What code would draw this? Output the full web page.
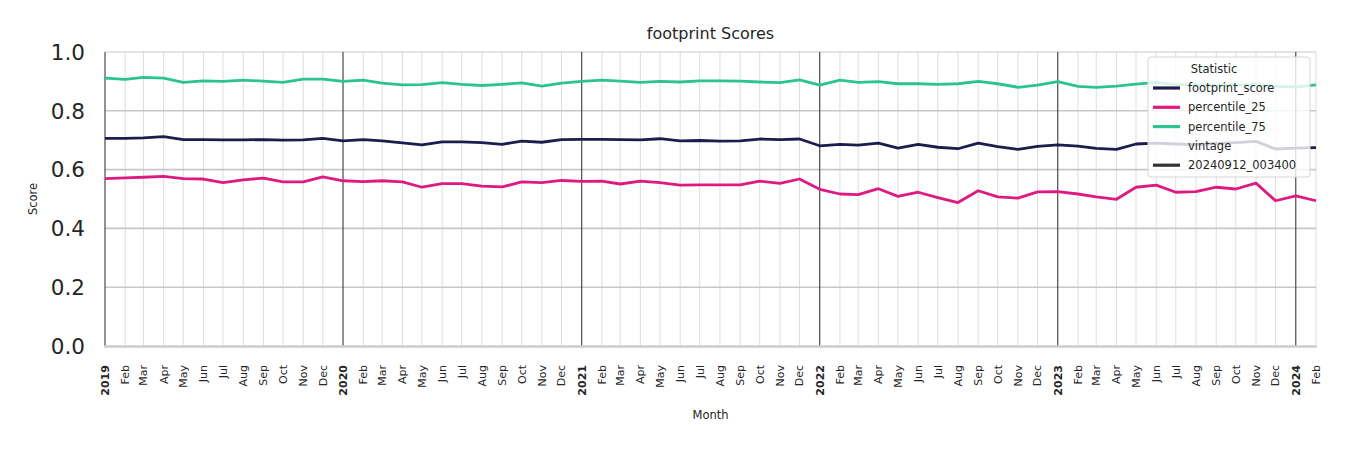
<!DOCTYPE html>
<html>
<head>
<meta charset="utf-8">
<script src="https://cdn.jsdelivr.net/npm/d3@7"></script>
<style>
  body { margin: 0; background: #fff; }
  svg { font-family: 'DejaVu Sans', sans-serif; display: block; }
</style>
</head>
<body>
<div id="svg-container"></div>
<script>
// monthly values, Jan 2019 .. Feb 2024
const startMonth = '2019-01-01'
const monthCount = 62

const footprintScore = [
  0.706, 0.706, 0.708, 0.712, 0.702, 0.702, 0.701, 0.701, 0.702, 0.700, 0.701, 0.706,
  0.698, 0.702, 0.698, 0.691, 0.684, 0.694, 0.694, 0.692, 0.686, 0.697, 0.693, 0.702,
  0.703, 0.703, 0.702, 0.701, 0.705, 0.698, 0.699, 0.697, 0.698, 0.704, 0.702, 0.704,
  0.681, 0.686, 0.683, 0.690, 0.673, 0.686, 0.676, 0.671, 0.690, 0.678, 0.669, 0.679,
  0.684, 0.680, 0.672, 0.669, 0.687, 0.690, 0.687, 0.685, 0.689, 0.692, 0.696, 0.670,
  0.673, 0.675,
]
const percentile25 = [
  0.569, 0.572, 0.574, 0.577, 0.569, 0.568, 0.556, 0.565, 0.571, 0.558, 0.558, 0.575,
  0.562, 0.559, 0.562, 0.558, 0.540, 0.552, 0.552, 0.544, 0.541, 0.558, 0.556, 0.563,
  0.560, 0.561, 0.551, 0.561, 0.556, 0.547, 0.548, 0.548, 0.548, 0.561, 0.553, 0.568,
  0.533, 0.517, 0.515, 0.535, 0.509, 0.523, 0.505, 0.488, 0.528, 0.507, 0.503, 0.524,
  0.525, 0.517, 0.507, 0.499, 0.540, 0.547, 0.523, 0.525, 0.540, 0.534, 0.554, 0.494,
  0.511, 0.494,
]
const percentile75 = [
  0.911, 0.907, 0.914, 0.911, 0.897, 0.902, 0.900, 0.904, 0.901, 0.897, 0.908, 0.908,
  0.900, 0.904, 0.894, 0.888, 0.889, 0.896, 0.890, 0.886, 0.890, 0.895, 0.884, 0.894,
  0.900, 0.904, 0.901, 0.897, 0.900, 0.898, 0.902, 0.902, 0.901, 0.898, 0.896, 0.905,
  0.887, 0.904, 0.897, 0.899, 0.892, 0.892, 0.890, 0.892, 0.900, 0.892, 0.880, 0.887,
  0.899, 0.883, 0.880, 0.884, 0.891, 0.897, 0.889, 0.888, 0.886, 0.888, 0.889, 0.883,
  0.881, 0.888,
]

const seriesNames = ['footprint_score', 'percentile_25', 'percentile_75']
const seriesColors = ['#1c1c4e', '#de1a82', '#2bc48f']
const yTicks = [0, 0.2, 0.4, 0.6, 0.8, 1.0]

;(function () {
  const svgWidth = 1350
  const svgHeight = 450
  const marginLeft = 105
  const marginRight = 34
  const marginTop = 52
  const marginBottom = 104

  const parse = d3.utcParse('%Y-%m-%d')
  const months = d3.utcMonth.range(parse(startMonth), d3.utcMonth.offset(parse(startMonth), monthCount))

  const x = d3
    .scaleUtc()
    .domain([months[0], months[months.length - 1]])
    .range([marginLeft, svgWidth - marginRight])
  const y = d3
    .scaleLinear()
    .domain([0, 1])
    .range([svgHeight - marginBottom, marginTop])

  const svg = d3
    .select('#svg-container')
    .append('svg')
    .attr('width', svgWidth)
    .attr('height', svgHeight)

  const x0 = x.range()[0]
  const x1 = x.range()[1]

  // minor month grid
  svg
    .append('g')
    .selectAll('line')
    .data(months.filter(d => d.getUTCMonth() !== 0))
    .join('line')
    .attr('x1', d => x(d))
    .attr('x2', d => x(d))
    .attr('y1', y(0))
    .attr('y2', y(1))
    .attr('stroke', '#dddddd')
    .attr('stroke-width', 1)

  // horizontal grid
  svg
    .append('g')
    .selectAll('line')
    .data(yTicks.filter(d => d > 0))
    .join('line')
    .attr('x1', x0)
    .attr('x2', x1)
    .attr('y1', d => y(d))
    .attr('y2', d => y(d))
    .attr('stroke', '#c8c8c8')
    .attr('stroke-width', d => (d === 1 ? 1 : 1.6))

  // year lines
  svg
    .append('g')
    .selectAll('line')
    .data(months.filter(d => d.getUTCMonth() === 0))
    .join('line')
    .attr('x1', d => x(d))
    .attr('x2', d => x(d))
    .attr('y1', y(0))
    .attr('y2', y(1))
    .attr('stroke', '#3a3a3a')
    .attr('stroke-width', 1.1)

  // bottom spine
  svg
    .append('line')
    .attr('x1', x0 - 1)
    .attr('x2', x1 + 1)
    .attr('y1', y(0) + 0.5)
    .attr('y2', y(0) + 0.5)
    .attr('stroke', '#cccccc')
    .attr('stroke-width', 2.5)

  // y tick labels
  svg
    .append('g')
    .selectAll('text')
    .data(yTicks)
    .join('text')
    .attr('x', x0 - 20)
    .attr('y', d => y(d))
    .attr('dy', '0.36em')
    .attr('text-anchor', 'end')
    .attr('font-size', 21.5)
    .attr('fill', '#262626')
    .text(d => d.toFixed(1))

  // x tick labels
  const fmtMonth = d3.utcFormat('%b')
  svg
    .append('g')
    .selectAll('text')
    .data(months)
    .join('text')
    .attr('transform', d => `translate(${x(d)},${y(0) + 19}) rotate(-90)`)
    .attr('dy', '0.35em')
    .attr('text-anchor', 'end')
    .attr('font-size', 11)
    .attr('font-weight', d => (d.getUTCMonth() === 0 ? 'bold' : 'normal'))
    .attr('fill', '#262626')
    .text(d => (d.getUTCMonth() === 0 ? d.getUTCFullYear() : fmtMonth(d)))

  // series lines
  const allSeries = [footprintScore, percentile25, percentile75]
  const line = d3
    .line()
    .x((d, i) => x(months[i]))
    .y(d => y(d))

  svg
    .append('g')
    .selectAll('path')
    .data(allSeries)
    .join('path')
    .attr('d', line)
    .attr('fill', 'none')
    .attr('stroke', (d, i) => seriesColors[i])
    .attr('stroke-width', 2.8)
    .attr('stroke-linejoin', 'round')

  // titles
  svg
    .append('text')
    .attr('x', (x0 + x1) / 2)
    .attr('y', 39)
    .attr('text-anchor', 'middle')
    .attr('font-size', 16)
    .attr('fill', '#262626')
    .text('footprint Scores')

  svg
    .append('text')
    .attr('transform', `translate(37,${(y(0) + y(1)) / 2}) rotate(-90)`)
    .attr('text-anchor', 'middle')
    .attr('font-size', 11.5)
    .attr('fill', '#262626')
    .text('Score')

  svg
    .append('text')
    .attr('x', (x0 + x1) / 2)
    .attr('y', 419)
    .attr('text-anchor', 'middle')
    .attr('font-size', 11.5)
    .attr('fill', '#262626')
    .text('Month')

  // legend
  const legend = svg.append('g').attr('transform', 'translate(1148,57)')
  legend
    .append('rect')
    .attr('width', 162)
    .attr('height', 120)
    .attr('rx', 3)
    .attr('fill', 'rgba(255,255,255,0.8)')
    .attr('stroke', '#d6d6d6')

  legend
    .append('text')
    .attr('x', 66)
    .attr('y', 12)
    .attr('dy', '0.35em')
    .attr('text-anchor', 'middle')
    .attr('font-size', 11.5)
    .attr('fill', '#262626')
    .text('Statistic')

  const legendItems = [
    { label: seriesNames[0], color: seriesColors[0] },
    { label: seriesNames[1], color: seriesColors[1] },
    { label: seriesNames[2], color: seriesColors[2] },
    { label: 'vintage', color: null },
    { label: '20240912_003400', color: '#333333' },
  ]
  const item = legend
    .selectAll('g.item')
    .data(legendItems)
    .join('g')
    .attr('class', 'item')
    .attr('transform', (d, i) => `translate(0,${31 + i * 19.3})`)
  item
    .filter(d => d.color)
    .append('line')
    .attr('x1', 5)
    .attr('x2', 32)
    .attr('stroke', d => d.color)
    .attr('stroke-width', 3.2)
  item
    .append('text')
    .attr('x', 40)
    .attr('dy', '0.35em')
    .attr('font-size', 11.5)
    .attr('fill', '#262626')
    .text(d => d.label)
})()
</script>
</body>
</html>
